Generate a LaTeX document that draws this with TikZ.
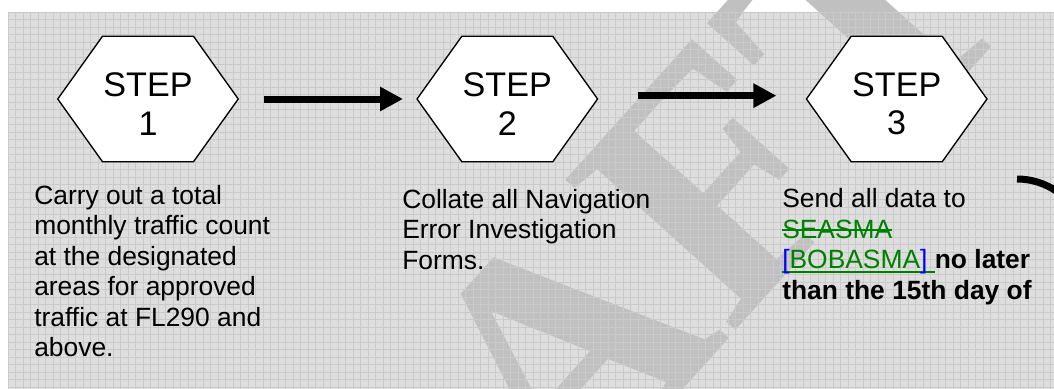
\documentclass[tikz,border=0pt]{standalone}
\usepackage{fontspec}
\setmainfont{Liberation Sans}
\newfontfamily\markfont{Liberation Serif}
\usetikzlibrary{arrows.meta,backgrounds}
\definecolor{sheetgray}{RGB}{222,222,222}
\definecolor{linegray}{RGB}{202,202,202}
\definecolor{markgray}{RGB}{192,192,192}
\definecolor{trackgreen}{RGB}{0,128,0}
\definecolor{trackblue}{RGB}{0,0,255}
\newsavebox\trackbox
\newcommand{\strikeword}[1]{\sbox\trackbox{#1}\rlap{\rule[0.28em]{\wd\trackbox}{0.08em}}\usebox\trackbox}
\newcommand{\underword}[1]{\sbox\trackbox{#1}\rlap{\rule[-0.16em]{\wd\trackbox}{0.07em}}\usebox\trackbox}
\newcommand{\steplabel}[1]{\rule{0pt}{25.3pt}STEP\\#1}
\tikzset{
  hexstep/.style={rectangle, minimum width=135pt, minimum height=93.75pt,
    inner sep=0pt, align=center, font=\fontsize{25.6pt}{28.7pt}\selectfont},
  hexline/.style={draw=black, fill=white, line width=1pt, line join=miter},
  flow/.style={line width=5.25pt, -{Triangle[length=17.25pt,width=17.25pt]}},
  note/.style={anchor=base west, inner sep=0pt, align=left,
    font=\fontsize{19.8pt}{22.9pt}\selectfont},
  gridline/.style={linegray, line width=0.6pt}
}
\begin{document}
\begin{tikzpicture}[x=0.75pt, y=-0.75pt]
    \useasboundingbox (0,0) rectangle (1054,389);
    \clip (0,0) rectangle (1054,389);

    % steps
    \node[hexstep] (s1) at (148,99) {\steplabel{1}};
    \node[hexstep] (s2) at (507.3,99) {\steplabel{2}};
    \node[hexstep] (s3) at (896.7,99) {\steplabel{3}};
    \draw[flow, shorten <=19.5pt, shorten >=10.5pt] (s1.east) -- (s2.west);
    \draw[flow, shorten <=30pt, shorten >=22.5pt] ([yshift=2.5pt]s2.east) -- ([yshift=2.5pt]s3.west);

    % texts under the steps
    \node[note] (t1) at (34,356.7) {Carry out a total\\monthly traffic count\\at the designated\\areas for approved\\traffic at FL290 and\\above.};
    \node[note] (t2) at (402,269.3) {Collate all Navigation\\Error Investigation\\Forms.};
    \node[note] (t3) at (782,299.3) {Send all data to\\{\color{trackgreen}\strikeword{SEASMA}}\\{\color{trackgreen}\underword{{\color{trackblue}[}BOBASMA{\color{trackblue}]}\ }}\textbf{no later}\\\textbf{than the 15th day of}};

    % line on to the next row
    \coordinate (turn) at (1017,179);
    \draw[line width=5.25pt] (turn) arc[start angle=-90, end angle=-20, radius=70];

    \begin{pgfonlayer}{background}
    % sheet, watermark and grid
    \fill[sheetgray] (8,12) rectangle (1054,389);
    \node[text=markgray, rotate=48, anchor=base west, inner sep=0pt,
          font=\markfont\bfseries\fontsize{260pt}{260pt}\selectfont] (draft) at (228,895) {DRAFT};
    \foreach \gx in {8,15.5,...,1054} \draw[gridline] (\gx,12) -- (\gx,389);
    \foreach \gy in {12,19.5,...,389} \draw[gridline] (8,\gy) -- (1054,\gy);
    % hexagon outlines of the steps
    \foreach \s in {s1,s2,s3}
      \draw[hexline] (\s.west) -- ([xshift=-34.1pt]\s.north) -- ([xshift=34.1pt]\s.north)
        -- (\s.east) -- ([xshift=34.1pt]\s.south) -- ([xshift=-34.1pt]\s.south) -- cycle;
    \end{pgfonlayer}
\end{tikzpicture}
\end{document}
